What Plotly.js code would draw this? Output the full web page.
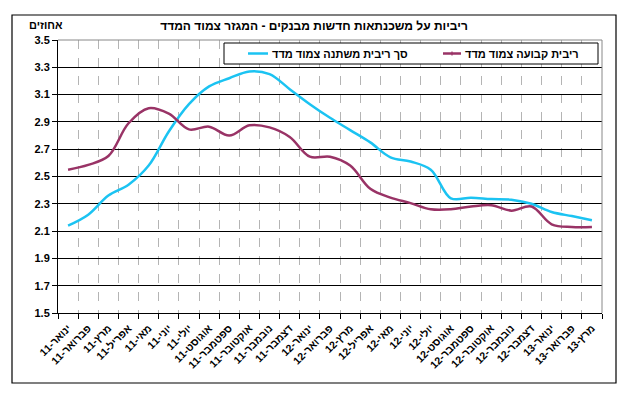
<!DOCTYPE html>
<html>
<head>
<meta charset="utf-8">
<script src="https://cdn.plot.ly/plotly-3.0.1.min.js"></script>
<style>
html,body{margin:0;padding:0;background:#fff;}
#chart{width:634px;height:398px;}
</style>
</head>
<body>
<div id="chart"></div>
<script>
// ---- data ----
var months = [
  "ינואר-11","פברואר-11","מרץ-11","אפריל-11","מאי-11","יוני-11","יולי-11","אוגוסט-11","ספטמבר-11","אוקטובר-11","נובמבר-11","דצמבר-11",
  "ינואר-12","פברואר-12","מרץ-12","אפריל-12","מאי-12","יוני-12","יולי-12","אוגוסט-12","ספטמבר-12","אוקטובר-12","נובמבר-12","דצמבר-12",
  "ינואר-13","פברואר-13","מרץ-13"
];
var variableRate = [2.14,2.22,2.36,2.44,2.58,2.83,3.03,3.16,3.22,3.27,3.25,3.14,3.03,2.93,2.84,2.75,2.64,2.61,2.55,2.34,2.345,2.335,2.33,2.30,2.24,2.21,2.18];
var fixedRate    = [2.55,2.585,2.65,2.89,3.00,2.96,2.845,2.865,2.80,2.875,2.86,2.79,2.645,2.645,2.58,2.41,2.345,2.305,2.26,2.26,2.28,2.29,2.25,2.28,2.15,2.13,2.13];
var nameVariable = "סך ריבית משתנה צמוד מדד";
var nameFixed = "ריבית קבועה צמוד מדד";
var chartTitle = "ריביות על משכנתאות חדשות מבנקים - המגזר צמוד המדד";
var unitLabel = "אחוזים";

// ---- styles ----
var cyan = "#1BC3F2";
var maroon = "#993366";
var fontFam = "Arial, 'Liberation Sans', sans-serif";

// plot area in pixels: x 58..602, y 40..313
var L = 58, R = 602, T = 40, B = 313;
function px(x){ return (x - L) / (R - L); }
function py(y){ return (B - y) / (B - T); }

var traces = [
  {x: months, y: variableRate, type: "scatter", mode: "lines", name: nameVariable,
   line: {color: cyan, width: 2.5, shape: "spline", smoothing: 1}, showlegend: false},
  {x: months, y: fixedRate, type: "scatter", mode: "lines", name: nameFixed,
   line: {color: maroon, width: 2.5, shape: "spline", smoothing: 1},
   showlegend: false}
];

var shapes = [
  // chart area border
  {type: "rect", xref: "paper", yref: "paper", x0: px(12), x1: px(616), y0: py(383), y1: py(15),
   line: {color: "#000", width: 1.2}, fillcolor: "rgba(0,0,0,0)", layer: "above"},
  // plot area top and right border (grey)
  {type: "line", xref: "paper", yref: "paper", x0: 0, x1: 1, y0: 1, y1: 1, line: {color: "#888", width: 1}, layer: "above"},
  {type: "line", xref: "paper", yref: "paper", x0: 1, x1: 1, y0: 0, y1: 1, line: {color: "#888", width: 1}, layer: "above"},
  // legend box
  {type: "rect", xref: "paper", yref: "paper", x0: px(224), x1: px(598), y0: py(64), y1: py(43),
   line: {color: "#000", width: 1}, fillcolor: "#fff", layer: "above"},
  // legend samples
  {type: "line", xref: "paper", yref: "paper", x0: px(248), x1: px(268), y0: py(53.5), y1: py(53.5),
   line: {color: cyan, width: 2.5}, layer: "above"},
  {type: "line", xref: "paper", yref: "paper", x0: px(443), x1: px(461), y0: py(53.5), y1: py(53.5),
   line: {color: maroon, width: 2.5}, layer: "above"},
  {type: "line", xref: "paper", yref: "paper", x0: px(452), x1: px(452), y0: py(51.5), y1: py(55.5),
   line: {color: maroon, width: 1.2}, layer: "above"}
];

var annotations = [
  {xref: "paper", yref: "paper", x: px(270), y: py(53.5), xanchor: "left", yanchor: "middle",
   text: nameVariable, showarrow: false, font: {family: fontFam, size: 11, color: "#000", weight: "bold"}},
  {xref: "paper", yref: "paper", x: px(463), y: py(53.5), xanchor: "left", yanchor: "middle",
   text: nameFixed, showarrow: false, font: {family: fontFam, size: 11, color: "#000", weight: "bold"}},
  {xref: "paper", yref: "paper", x: px(46), y: py(25), xanchor: "center", yanchor: "middle",
   text: unitLabel, showarrow: false, font: {family: fontFam, size: 11, color: "#000", weight: "bold"}}
];

var layout = {
  width: 634, height: 398,
  margin: {l: L, r: 634 - R, t: T, b: 398 - B, pad: 0},
  paper_bgcolor: "#fff", plot_bgcolor: "#fff",
  showlegend: false,
  title: {text: chartTitle, x: 314 / 634, xanchor: "center", xref: "container",
          y: 1 - 26 / 398, yanchor: "middle", yref: "container",
          font: {family: fontFam, size: 12, color: "#000", weight: "bold"}},
  xaxis: {
    type: "category", tickson: "boundaries", range: [-0.5, months.length - 0.5],
    ticks: "outside", ticklen: 5, tickcolor: "#000", tickwidth: 1,
    showline: true, linecolor: "#000", linewidth: 1,
    showgrid: true, gridcolor: "#b4b4b4", griddash: "dash", gridwidth: 1,
    tickangle: -45, ticklabelstandoff: 4,
    tickfont: {family: fontFam, size: 10.5, color: "#000", weight: "bold"},
    fixedrange: true
  },
  yaxis: {
    range: [1.5, 3.5], dtick: 0.2, tick0: 1.5, tickformat: ".1f",
    ticks: "outside", ticklen: 5, tickcolor: "#000", tickwidth: 1,
    showline: true, linecolor: "#000", linewidth: 1,
    showgrid: true, gridcolor: "#000", gridwidth: 1, zeroline: false,
    tickfont: {family: fontFam, size: 11, color: "#000", weight: "bold"},
    fixedrange: true
  },
  shapes: shapes,
  annotations: annotations
};

Plotly.newPlot("chart", traces, layout, {displayModeBar: false, staticPlot: true});
</script>
</body>
</html>
